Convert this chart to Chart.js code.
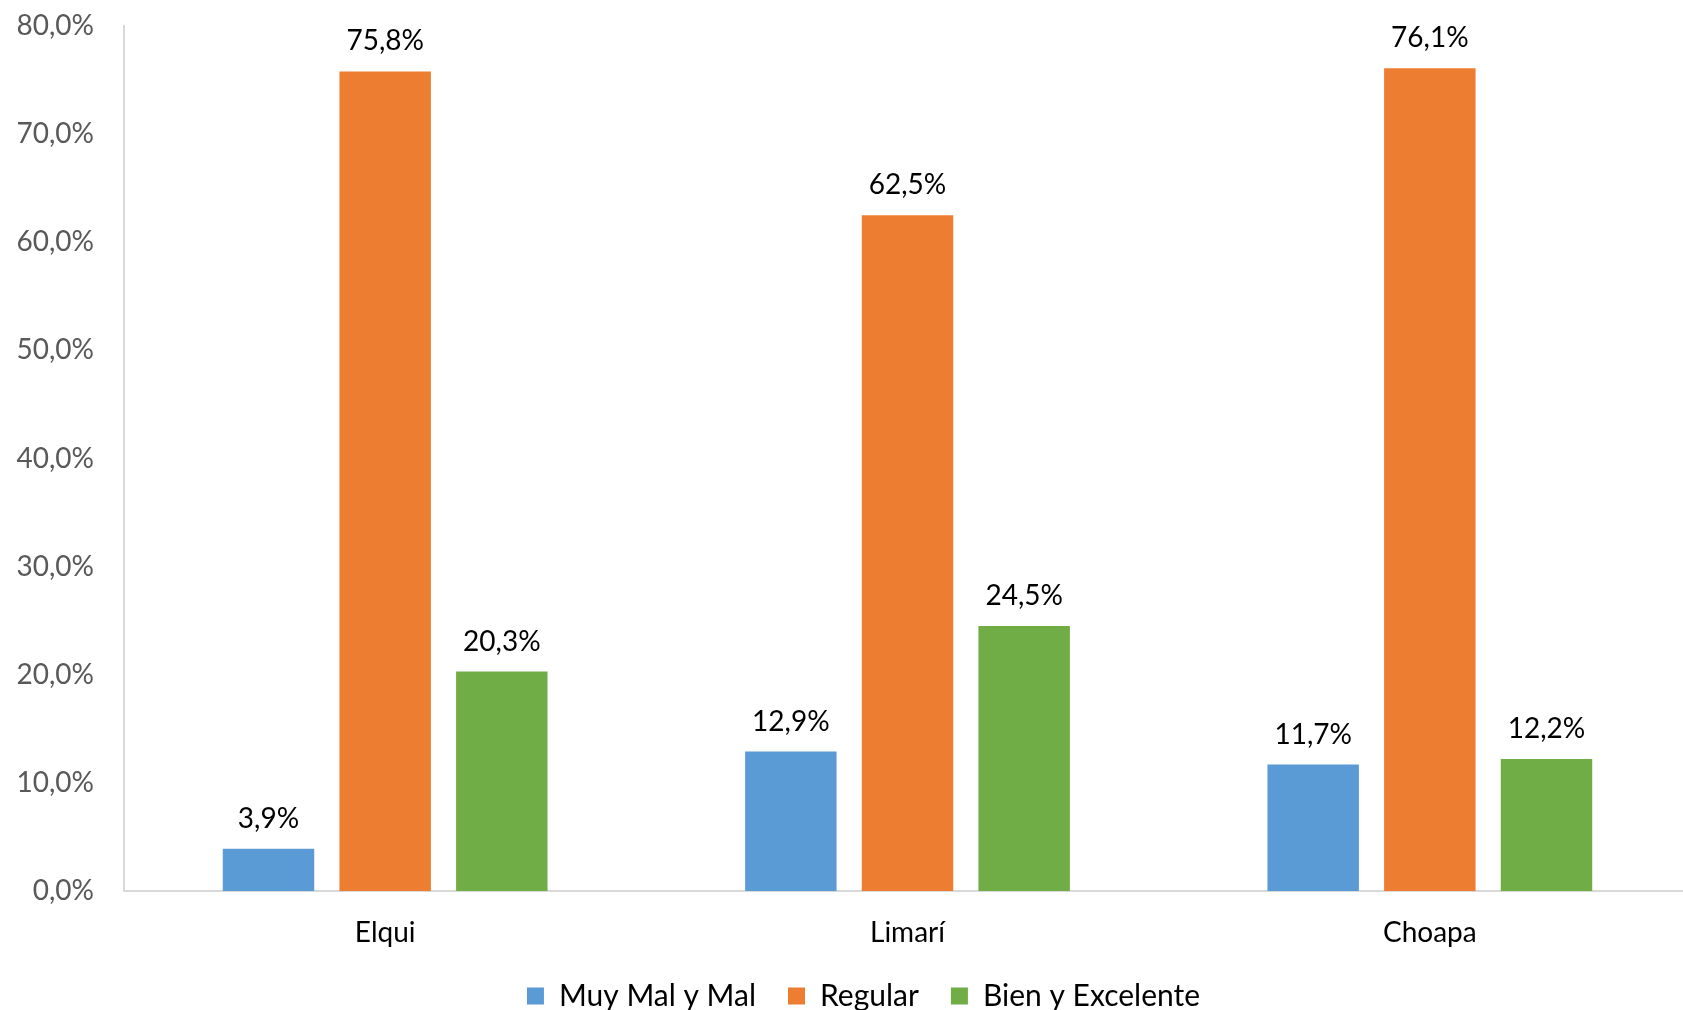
<!DOCTYPE html>
<html>
<head>
<meta charset="utf-8">
<script src="https://cdn.jsdelivr.net/npm/chart.js@4.4.0/dist/chart.umd.min.js"></script>
<style>
  html, body { margin: 0; padding: 0; background: #fff; overflow: hidden; }
  /* plot area runs a few px past the right edge, like the original */
  #wrap { width: 1683px; height: 1010px; overflow: hidden; }
</style>
</head>
<body>
<div id="wrap"><canvas id="myChart" width="1691" height="1010"></canvas></div>
<script>
let provincias = ["Elqui", "Limarí", "Choapa"];
let muyMalYMal = [3.9, 12.9, 11.7];
let regular = [75.8, 62.5, 76.1];
let bienYExcelente = [20.3, 24.5, 12.2];
let yTicks = [0, 10, 20, 30, 40, 50, 60, 70, 80];

const FONT = "Lato";

function fmt(v) {
  return v.toFixed(1).replace(".", ",") + "%";
}

// labels on top of each bar
const valueLabels = {
  id: "valueLabels",
  afterDatasetsDraw(chart) {
    const ctx = chart.ctx;
    ctx.save();
    ctx.font = "28px " + FONT;
    ctx.fillStyle = "#000";
    ctx.textAlign = "center";
    ctx.textBaseline = "middle";
    chart.data.datasets.forEach((ds, i) => {
      chart.getDatasetMeta(i).data.forEach((bar, j) => {
        ctx.fillText(fmt(ds.data[j]), bar.x, bar.y - 30);
      });
    });
    ctx.restore();
  },
};

// legend sits a bit right of the canvas centre in the original
const legendShift = {
  id: "legendShift",
  afterLayout(chart) {
    chart.legend.left += 18;
    chart.legend.right += 18;
  },
};

const ctx = document.getElementById("myChart").getContext("2d");
const myChart = new Chart(ctx, {
  type: "bar",
  data: {
    labels: provincias,
    datasets: [
      { label: "Muy Mal y Mal", data: muyMalYMal, backgroundColor: "#5B9BD5" },
      { label: "Regular", data: regular, backgroundColor: "#ED7D31" },
      { label: "Bien y Excelente", data: bienYExcelente, backgroundColor: "#70AD47" },
    ],
  },
  options: {
    responsive: false,
    animation: false,
    categoryPercentage: 0.67,
    barPercentage: 0.784,
    layout: { padding: { top: 26, left: 0, right: 0, bottom: -11 } },
    plugins: {
      tooltip: { enabled: false },
      legend: {
        position: "bottom",
        labels: {
          boxWidth: 17,
          boxHeight: 17,
          padding: 32,
          color: "#000",
          font: { family: FONT, size: 30 },
        },
      },
    },
    scales: {
      x: {
        afterFit: (scale) => {
          scale.height = 58;
        },
        grid: { display: false, drawTicks: false },
        border: { display: true, color: "#D9D9D9", width: 2 },
        ticks: { color: "#000", padding: 25, font: { family: FONT, size: 28 } },
      },
      y: {
        min: 0,
        max: 80,
        afterBuildTicks: (scale) => {
          scale.ticks = yTicks.map((v) => ({ value: v }));
        },
        afterFit: (scale) => {
          scale.width = 124;
          scale.paddingTop = 0;
          scale.paddingBottom = 0;
        },
        grid: { display: false, drawTicks: false },
        border: { display: true, color: "#D9D9D9", width: 2 },
        ticks: {
          color: "#595959",
          padding: 30,
          font: { family: FONT, size: 28 },
          callback: (v) => fmt(v),
        },
      },
    },
  },
  plugins: [valueLabels, legendShift],
});
</script>
</body>
</html>
